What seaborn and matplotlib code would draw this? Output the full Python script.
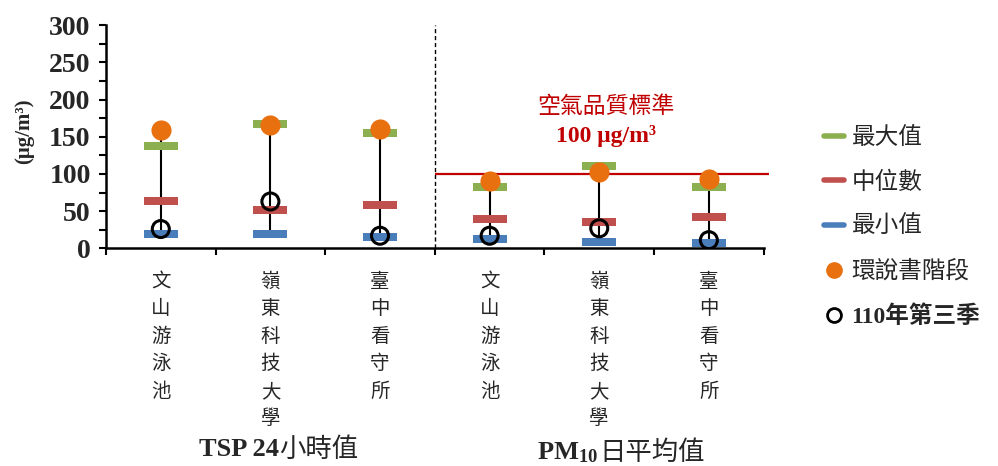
# 測站濃度比較圖 (TSP / PM10)

# -----------------------------------------------------------------
# ライブラリのインポート
# -----------------------------------------------------------------
import numpy as np
import pandas as pd
import seaborn as sns
from matplotlib import pyplot as plt
from matplotlib.lines import Line2D
from matplotlib.path import Path
from matplotlib.transforms import blended_transform_factory

sns.set_style("white")
# フォント設定 (set_style の後に指定)
plt.rcParams["font.family"] = ["Liberation Serif", "Noto Sans CJK TC"]
plt.rcParams["mathtext.fontset"] = "custom"
plt.rcParams["mathtext.rm"] = "Liberation Serif"
plt.rcParams["mathtext.bf"] = "Liberation Serif:bold"

# -----------------------------------------------------------------
# データ
# -----------------------------------------------------------------
stations = ["文山游泳池", "嶺東科技大學", "臺中看守所", "文山游泳池", "嶺東科技大學", "臺中看守所"]
max_vals = [138, 167, 155, 82, 111, 82]
med_vals = [64, 52, 58, 40, 35, 42]
min_vals = [19, 19, 15, 12, 9, 7]
eia_vals = [159, 166, 161, 90, 102, 93]
q3_vals = [26, 63, 17, 17, 27, 11]
series_names = ["最大值", "中位數", "最小值", "環說書階段", "110年第三季"]
pm10_standard = 100

df = pd.DataFrame(
    {
        "pos": np.tile(np.arange(len(stations)), len(series_names)),
        "value": max_vals + med_vals + min_vals + eia_vals + q3_vals,
        "series": np.repeat(series_names, len(stations)),
    }
)

green = "#8CAF50"
red = "#C0504D"
blue = "#4A7EBB"
orange = "#E8700F"
std_red = "#C00000"

# 横長の四角マーカー
dash = Path([(-2.1, -0.5), (2.1, -0.5), (2.1, 0.5), (-2.1, 0.5), (-2.1, -0.5)])

fig = plt.figure(figsize=(9.98, 4.66), dpi=100)
ax = fig.add_axes([0.1062, 0.467, 0.659, 0.479])

# 高低線
rng = df.groupby("pos")["value"].agg(["min", "max"])
ax.vlines(rng.index, rng["min"], rng["max"], color="black", lw=1.5, zorder=1)

# 最大値・中位数・最小値
for name, col in zip(series_names[:3], [green, red, blue]):
    sns.scatterplot(
        data=df[df["series"] == name], x="pos", y="value", marker=dash,
        s=600, color=col, linewidth=0, ax=ax, zorder=2,
    )

# 環説書階段
sns.scatterplot(
    data=df[df["series"] == series_names[3]], x="pos", y="value", marker="o",
    s=210, color=orange, linewidth=0, ax=ax, zorder=3,
)
# 110年第三季
sns.scatterplot(
    data=df[df["series"] == series_names[4]], x="pos", y="value", marker="o",
    s=150, facecolor="none", edgecolor="black", linewidth=2.2, ax=ax, zorder=4,
)

# 区切り線と空気品質基準
ax.axvline(2.5, color="black", lw=1.0, ls=(0, (3, 2)), zorder=0)
ax.hlines(pm10_standard, 2.5, 5.55, color=std_red, lw=1.6, clip_on=False, zorder=1)
ax.text(4.06, 191, "空氣品質標準", color=std_red, fontsize=16.5, ha="center", va="center",
        family=["Noto Sans CJK TC"])
ax.text(4.06, 151, "100 μg/m³", color=std_red, fontsize=17, ha="center", va="center",
        fontweight="bold")

# -----------------------------------------------------------------
# 軸
# -----------------------------------------------------------------
ax.set_xlim(-0.5, 5.5)
ax.set_ylim(0, 300)
ax.set_yticks(np.arange(0, 301, 50))
ax.set_yticks(np.arange(0, 301, 25), minor=True)
ax.set_xticks(np.arange(len(stations)))
ax.set_xticklabels(["\n".join(s) for s in stations])
ax.set_xticks(np.arange(-0.5, len(stations), 1), minor=True)
ax.set_xlabel("")
ax.set_ylabel("(μg/m³)", fontsize=15, fontweight="bold")
ax.yaxis.set_label_coords(-0.11, 0.525)

for t in ax.get_xticklabels():
    t.set_family(["Noto Sans CJK TC"])
    t.set_fontsize(14)
    t.set_linespacing(1.41)
for t in ax.get_yticklabels():
    t.set_fontsize(20)
    t.set_fontweight("bold")

ax.tick_params(axis="x", which="major", length=0, pad=16)
ax.tick_params(axis="x", which="minor", length=5, width=1.5, direction="out", color="black")
ax.tick_params(axis="y", which="both", length=5, width=1.5, direction="out", color="black", pad=6)
ax.tick_params(left=True, bottom=True, which="both")

for side in ["top", "right"]:
    ax.spines[side].set_visible(False)
for side in ["left", "bottom"]:
    ax.spines[side].set_linewidth(1.8)
    ax.spines[side].set_color("black")

# グループ名
tr = blended_transform_factory(ax.transData, fig.transFigure)
ax.text(1.08, 0.036, "TSP 24", transform=tr, ha="right", va="center", fontsize=19, fontweight="bold")
ax.text(1.08, 0.036, "小時值", transform=tr, ha="left", va="center", fontsize=19,
        family=["Noto Sans CJK TC"])
ax.text(4.0, 0.028, r"$\mathbf{PM_{10}}$ ", transform=tr, ha="right", va="center", fontsize=19)
ax.text(4.0, 0.028, "日平均值", transform=tr, ha="left", va="center", fontsize=19,
        family=["Noto Sans CJK TC"])

# 凡例
handles = [
    Line2D([], [], color=green, lw=4),
    Line2D([], [], color=red, lw=4),
    Line2D([], [], color=blue, lw=4),
    Line2D([], [], color=orange, marker="o", ls="", markersize=11),
    Line2D([], [], color="black", marker="o", ls="", markersize=10, mfc="none", mew=2),
]
leg = ax.legend(
    handles, series_names, loc="upper left", bbox_to_anchor=(0.826, 1 - 127 / 466),
    bbox_transform=fig.transFigure, frameon=False, fontsize=17, handlelength=0.85,
    handletextpad=0.3, labelspacing=0.95, borderpad=0, borderaxespad=0,
)
leg.get_texts()[4].set_fontweight("bold")

plt.savefig("out.png", dpi=100)
